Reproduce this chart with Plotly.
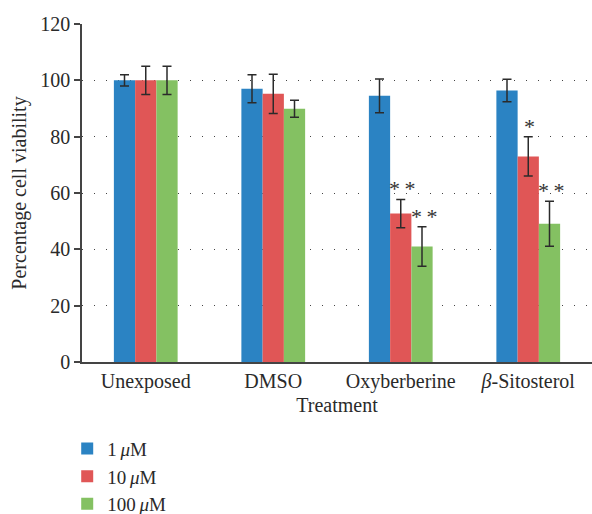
import plotly.graph_objects as go

categories = ["Unexposed", "DMSO", "Oxyberberine", "<i>β</i>-Sitosterol"]
series_names = ["1\u2009<i>μ</i>M", "10\u2009<i>μ</i>M", "100\u2009<i>μ</i>M"]
values_1uM = [100, 97, 94.5, 96.4]
values_10uM = [100, 95.2, 52.7, 73]
values_100uM = [100, 89.9, 41, 49.1]
err_1uM = [2, 5, 6, 4]
err_10uM = [5, 7, 5, 7]
err_100uM = [5, 3, 7, 8]
colors = ["#2b83c3", "#e05656", "#84c162"]
y_ticks = [0, 20, 40, 60, 80, 100, 120]

# significance marks: (category index, series index, text)
sig_marks = [(2, 1, "*\u2009*"), (2, 2, "*\u2009*"), (3, 1, "*"), (3, 2, "*\u2009*")]

FONT = "Liberation Serif"
TXT = "#2a2a2a"

fig = go.Figure()
all_vals = [values_1uM, values_10uM, values_100uM]
all_errs = [err_1uM, err_10uM, err_100uM]
for i, (name, vals, errs) in enumerate(zip(series_names, all_vals, all_errs)):
    fig.add_trace(go.Bar(
        x=categories, y=vals, name=name,
        marker=dict(color=colors[i], line=dict(width=0)),
        error_y=dict(type="data", array=errs, visible=True,
                     color="#2b2b2b", thickness=1.5, width=4.5),
        legendgroup=f"g{i}",
    ))

bar_px = 21.3
for ci, si, txt in sig_marks:
    top = all_vals[si][ci] + all_errs[si][ci]
    fig.add_annotation(
        x=categories[ci], y=top, xref="x", yref="y",
        text=txt, showarrow=False, yanchor="bottom",
        xshift=(si - 1) * bar_px + 1.5, yshift=-4,
        font=dict(family=FONT, size=22, color="#333333"),
    )

fig.update_layout(
    width=592, height=514,
    margin=dict(l=82, r=0, t=24, b=152, autoexpand=False),
    paper_bgcolor="white", plot_bgcolor="white",
    barmode="group", bargap=0.5, bargroupgap=0,
    font=dict(family=FONT, size=20, color=TXT),
    showlegend=True,
    legend=dict(
        x=-0.029, y=-0.2, xanchor="left", yanchor="top",
        orientation="v", traceorder="grouped", tracegroupgap=0,
        font=dict(family=FONT, size=19, color=TXT),
        bgcolor="rgba(0,0,0,0)",
    ),
)
fig.update_xaxes(
    type="category", range=[-0.5, 3.5], automargin=False,
    showline=True, linecolor="#444", linewidth=1.5,
    ticks="", showgrid=False,
    tickfont=dict(family=FONT, size=20, color=TXT),
    title=dict(text="Treatment", font=dict(family=FONT, size=20, color=TXT), standoff=6),
)
fig.update_yaxes(
    range=[0, 120], tickvals=y_ticks, automargin=False,
    showline=True, linecolor="#444", linewidth=1.5,
    ticks="outside", ticklen=6, tickcolor="#444", tickwidth=1.5,
    showgrid=True, gridcolor="#444", gridwidth=1.3, griddash="1.3px,10.7px",
    zeroline=False,
    tickfont=dict(family=FONT, size=20, color=TXT),
    title=dict(text="Percentage cell viability", font=dict(family=FONT, size=20, color=TXT), standoff=8),
)

fig.write_html(
    "out.html",
    config={"displayModeBar": False},
    post_script="document.body.style.margin='0';document.body.style.overflow='hidden';",
)
